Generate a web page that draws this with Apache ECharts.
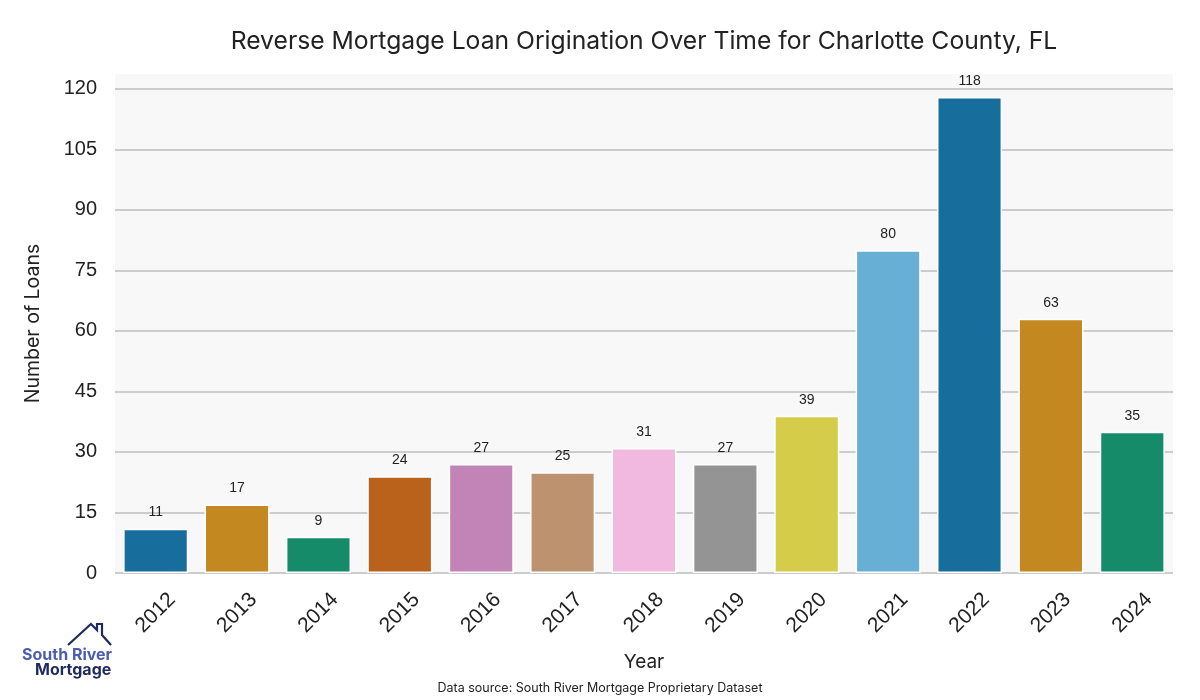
<!DOCTYPE html>
<html>
<head>
<meta charset="utf-8">
<script src="https://cdn.jsdelivr.net/npm/echarts@6/dist/echarts.min.js"></script>
<style>html,body{margin:0;padding:0;background:#fff}#c{width:1200px;height:700px}</style>
</head>
<body>
<div id="c"></div>
<script>
const years = ['2012','2013','2014','2015','2016','2017','2018','2019','2020','2021','2022','2023','2024'];
const loans = [11, 17, 9, 24, 27, 25, 31, 27, 39, 80, 118, 63, 35];
const palette = ['#176d9c','#c38820','#168b6a','#ba611b','#c283b6','#bd926e','#f1b8e0','#949494','#d5cd4a','#68afd6'];
const yTicks = [0, 15, 30, 45, 60, 75, 90, 105, 120];

const chart = echarts.init(document.getElementById('c'), null, {renderer: 'canvas'});
const option = {
  backgroundColor: '#ffffff',
  animation: false,
  title: {
    text: 'Reverse Mortgage Loan Origination Over Time for Charlotte County, FL',
    left: 639, top: 24, textAlign: 'center',
    textStyle: {fontFamily: 'Inter', fontSize: 24.7, fontWeight: 'normal', color: '#222'}
  },
  grid: {left: 115, right: 27, top: 74, bottom: 127, show: true, backgroundColor: '#f8f8f8', borderWidth: 0},
  xAxis: {
    type: 'category', data: years,
    name: 'Year', nameLocation: 'middle', nameGap: 80,
    nameTextStyle: {fontFamily: 'Inter', fontSize: 19, color: '#222'},
    axisLine: {show: false}, axisTick: {show: false},
    axisLabel: {rotate: 45, align: 'center', verticalAlign: 'middle', margin: 40,
      fontFamily: 'Liberation Sans', fontSize: 21, color: '#222', interval: 0}
  },
  yAxis: {
    type: 'value', min: 0, max: 123.7, interval: 15,
    name: 'Number of Loans', nameLocation: 'middle', nameGap: 72,
    nameTextStyle: {fontFamily: 'Inter', fontSize: 19.5, color: '#222'},
    axisLine: {show: false}, axisTick: {show: false},
    axisLabel: {showMaxLabel: false, margin: 18, fontFamily: 'Liberation Sans', fontSize: 20, color: '#222',
      formatter: v => yTicks.includes(v) ? String(v) : ''},
    splitLine: {showMaxLine: false, lineStyle: {color: '#cccccc', width: 2}}
  },
  series: [{
    type: 'bar',
    data: loans.map((v, i) => ({value: v, itemStyle: {color: palette[i % palette.length]}})),
    barCategoryGap: '20%',
    itemStyle: {borderColor: '#ffffff', borderWidth: 1.5},
    label: {show: true, position: 'top', distance: 9, fontFamily: 'Liberation Sans', fontSize: 14, color: '#222'}
  }],
  graphic: [
    {type: 'text', left: 'center', top: 682,
     style: {text: 'Data source: South River Mortgage Proprietary Dataset', fontFamily: 'Inter', fontSize: 12.5, fill: '#222'}},
    {type: 'polyline', shape: {points: [[68,645],[91,624],[97,630],[97,624],[102,624],[102,635],[111,645]]},
     style: {stroke: '#1f2a5e', lineWidth: 2.2, fill: 'none'}},
    {type: 'text', left: 22, top: 647,
     style: {text: 'South River', fontFamily: 'Inter', fontSize: 16, fontWeight: 'bold', fill: '#4a5db0'}},
    {type: 'text', left: 35, top: 662,
     style: {text: 'Mortgage', fontFamily: 'Inter', fontSize: 16, fontWeight: 'bold', fill: '#1f2a5e'}}
  ]
};
chart.setOption(option);
</script>
</body>
</html>
